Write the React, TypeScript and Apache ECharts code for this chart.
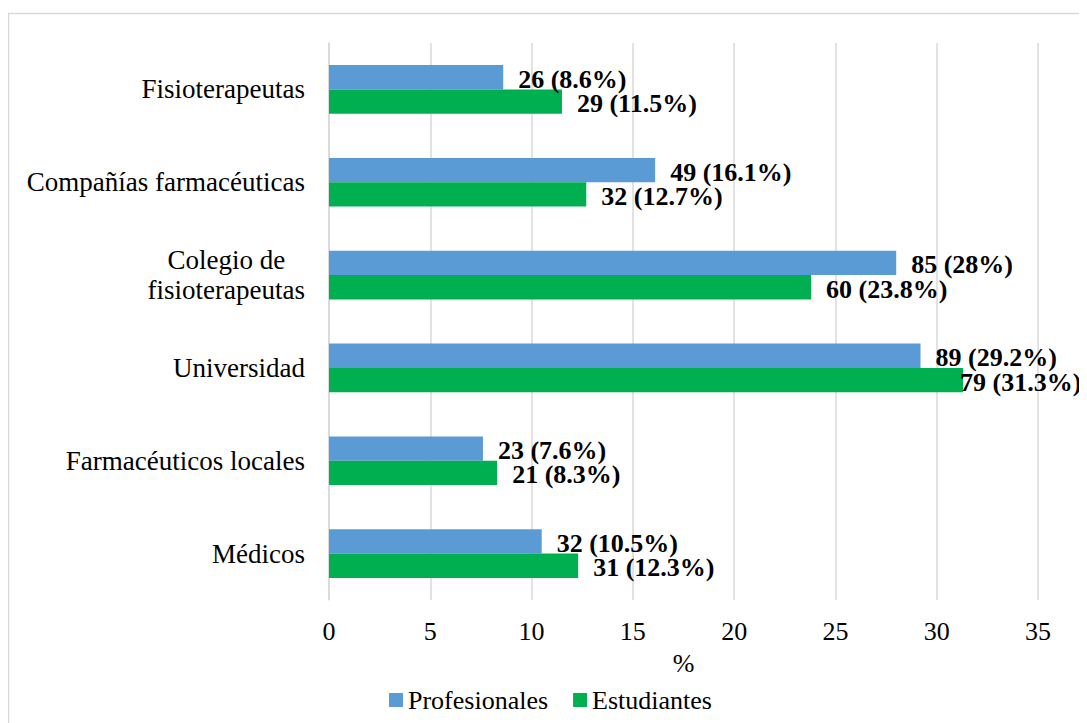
import React, { useEffect, useRef } from "react";
import * as echarts from "echarts";

// Sources of information, listed bottom-to-top as the category axis runs
const categories = [
  "Médicos",
  "Farmacéuticos locales",
  "Universidad",
  "Colegio de fisioterapeutas",
  "Compañías farmacéuticas",
  "Fisioterapeutas",
];

// Percentages (bar length) and counts (shown in the labels)
const profesionalesPct = [10.5, 7.6, 29.2, 28, 16.1, 8.6];
const profesionalesN = [32, 23, 89, 85, 49, 26];
const estudiantesPct = [12.3, 8.3, 31.3, 23.8, 12.7, 11.5];
const estudiantesN = [31, 21, 79, 60, 32, 29];

const xTicks = { min: 0, max: 35, interval: 5 };

const FONT = "Liberation Serif, Times New Roman, serif";
const BLUE = "#5B9BD5";
const GREEN = "#00B050";
const GRID = "#d9d9d9";

function fmtPct(v: number): string {
  return `${v}%`;
}

export default function App() {
  const ref = useRef<HTMLDivElement>(null);

  useEffect(() => {
    if (!ref.current) return;
    const chart = echarts.init(ref.current, undefined, { renderer: "svg" });

    const labelBase = {
      show: true,
      position: "right" as const,
      distance: 15,
      offset: [0, 2],
      fontFamily: FONT,
      fontSize: 26,
      fontWeight: "bold" as const,
      color: "#000",
    };

    // the longest bar's label sits flush against its bar so it stays in frame
    const xMax = xTicks.max;
    const seriesData = (pct: number[]) =>
      pct.map((v) =>
        v > xMax - 5 ? { value: v, label: { distance: -3 } } : { value: v }
      );

    chart.setOption({
      animation: false,
      graphic: [
        {
          type: "rect",
          z: -10,
          silent: true,
          shape: { x: 0.5, y: 5.5, width: 1200, height: 900 },
          style: { fill: "none", stroke: GRID, lineWidth: 1.5 },
        },
      ],
      legend: {
        data: ["Profesionales", "Estudiantes"],
        left: 376,
        top: 674,
        itemWidth: 14,
        itemHeight: 14,
        itemGap: 25,
        icon: "rect",
        textStyle: { fontFamily: FONT, fontSize: 26, color: "#000" },
      },
      grid: { left: 321, right: 49, top: 35, bottom: 123, containLabel: false },
      xAxis: {
        type: "value",
        min: xTicks.min,
        max: xTicks.max,
        interval: xTicks.interval,
        name: "%",
        nameLocation: "middle",
        nameGap: 50,
        nameTextStyle: { fontFamily: FONT, fontSize: 26, color: "#000" },
        axisLine: { show: false },
        axisTick: { show: false },
        axisLabel: { fontFamily: FONT, fontSize: 26, color: "#000", margin: 18 },
        splitLine: { show: true, lineStyle: { color: GRID, width: 1.5 } },
      },
      yAxis: {
        type: "category",
        data: categories,
        axisLine: { show: true, lineStyle: { color: GRID, width: 1.5 } },
        axisTick: { show: false },
        axisLabel: {
          fontFamily: FONT,
          fontSize: 27,
          color: "#000",
          margin: 24,
          lineHeight: 30,
          formatter: (value: string) => {
            if (value === "Colegio de fisioterapeutas") {
              return "{c|Colegio de}\n{c|fisioterapeutas}";
            }
            return value;
          },
          rich: {
            c: { align: "center", fontFamily: FONT, fontSize: 27, color: "#000", lineHeight: 30 },
          },
        },
      },
      series: [
        {
          name: "Profesionales",
          type: "bar",
          data: seriesData(profesionalesPct),
          itemStyle: { color: BLUE },
          barGap: "0%",
          barCategoryGap: "47.6%",
          label: {
            ...labelBase,
            formatter: (p: any) => `${profesionalesN[p.dataIndex]} (${fmtPct(profesionalesPct[p.dataIndex])})`,
          },
        },
        {
          name: "Estudiantes",
          type: "bar",
          data: seriesData(estudiantesPct),
          itemStyle: { color: GREEN },
          barGap: "0%",
          barCategoryGap: "47.6%",
          label: {
            ...labelBase,
            formatter: (p: any) => `${estudiantesN[p.dataIndex]} (${fmtPct(estudiantesPct[p.dataIndex])})`,
          },
        },
      ],
    });

    return () => chart.dispose();
  }, []);

  return <div ref={ref} style={{ width: 1079, height: 715 }} />;
}
